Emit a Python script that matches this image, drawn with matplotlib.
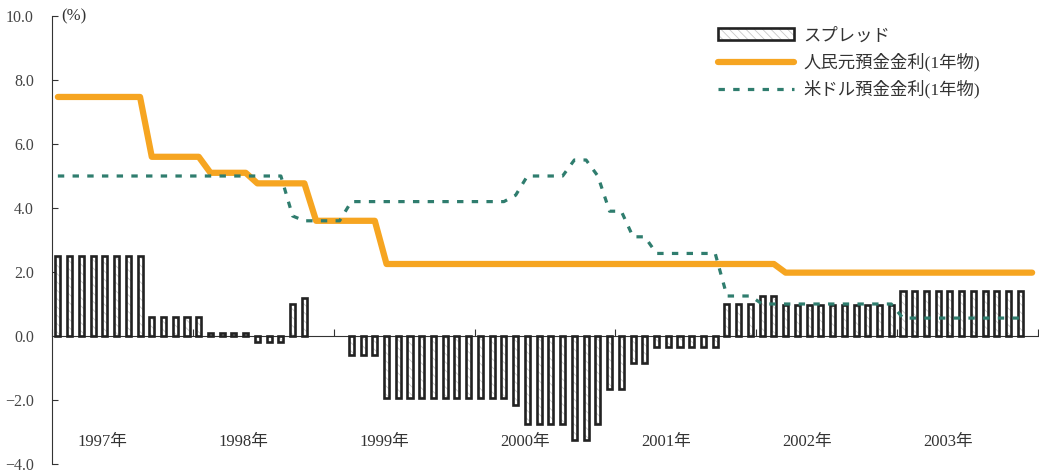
import numpy as np
import matplotlib
matplotlib.use('Agg')
import matplotlib.pyplot as plt
from matplotlib.patches import Patch
from matplotlib.lines import Line2D

plt.rcParams['font.family'] = ['Liberation Serif', 'Noto Sans CJK JP']
plt.rcParams['hatch.linewidth'] = 0.6

# monthly data, Jan 1997 - Dec 2003
years = [1997, 1998, 1999, 2000, 2001, 2002, 2003]

cny_rate = [
    7.47, 7.47, 7.47, 7.47, 7.47, 7.47, 7.47, 7.47, 5.6, 5.6, 5.6, 5.6,
    5.6, 5.1, 5.1, 5.1, 5.1, 4.77, 4.77, 4.77, 4.77, 4.77, 3.6, 3.6,
    3.6, 3.6, 3.6, 3.6, 2.25, 2.25, 2.25, 2.25, 2.25, 2.25, 2.25, 2.25,
    2.25, 2.25, 2.25, 2.25, 2.25, 2.25, 2.25, 2.25, 2.25, 2.25, 2.25, 2.25,
    2.25, 2.25, 2.25, 2.25, 2.25, 2.25, 2.25, 2.25, 2.25, 2.25, 2.25, 2.25,
    2.25, 2.25, 1.98, 1.98, 1.98, 1.98, 1.98, 1.98, 1.98, 1.98, 1.98, 1.98,
    1.98, 1.98, 1.98, 1.98, 1.98, 1.98, 1.98, 1.98, 1.98, 1.98, 1.98, 1.98,
]

usd_rate = [
    5.0, 5.0, 5.0, 5.0, 5.0, 5.0, 5.0, 5.0, 5.0, 5.0, 5.0, 5.0,
    5.0, 5.0, 5.0, 5.0, 5.0, 5.0, 5.0, 5.0, 3.75, 3.6, 3.6, 3.6,
    3.6, 4.2, 4.2, 4.2, 4.2, 4.2, 4.2, 4.2, 4.2, 4.2, 4.2, 4.2,
    4.2, 4.2, 4.2, 4.4, 5.0, 5.0, 5.0, 5.0, 5.5, 5.5, 5.0, 3.9,
    3.9, 3.1, 3.1, 2.58, 2.58, 2.58, 2.58, 2.58, 2.58, 1.25, 1.25, 1.25,
    1.0, 1.0, 1.0, 1.0, 1.0, 1.0, 1.0, 1.0, 1.0, 1.0, 1.0, 1.0,
    0.56, 0.56, 0.56, 0.56, 0.56, 0.56, 0.56, 0.56, 0.56, 0.56, 0.56,
]

spread = [
    2.5, 2.5, 2.5, 2.5, 2.5, 2.5, 2.5, 2.5, 0.6, 0.6, 0.6, 0.6,
    0.6, 0.1, 0.1, 0.1, 0.1, -0.2, -0.2, -0.2, 1.0, 1.2, 0.0, 0.0,
    0.0, -0.6, -0.6, -0.6, -1.95, -1.95, -1.95, -1.95, -1.95, -1.95, -1.95, -1.95,
    -1.95, -1.95, -1.95, -2.15, -2.75, -2.75, -2.75, -2.75, -3.25, -3.25, -2.75, -1.65,
    -1.65, -0.85, -0.85, -0.33, -0.33, -0.33, -0.33, -0.33, -0.33, 1.0, 1.0, 1.0,
    1.25, 1.25, 0.98, 0.98, 0.98, 0.98, 0.98, 0.98, 0.98, 0.98, 0.98, 0.98,
    1.42, 1.42, 1.42, 1.42, 1.42, 1.42, 1.42, 1.42, 1.42, 1.42, 1.42,
]

orange = '#F6A521'
teal = '#2F7D6E'

fig = plt.figure(figsize=(10.39, 4.73), dpi=100)
ax = fig.add_axes([52/1039, 9/473, 986/1039, 448/473])

sp = np.array(spread)
xb = np.arange(len(sp)) + 0.5
nz = sp != 0  # months with zero spread have no bar
# hatch layer then black outline
ax.bar(xb[nz], sp[nz], width=0.43, color='white', edgecolor='#c8c8c8',
       linewidth=0, hatch='\\\\\\\\', zorder=3)
ax.bar(xb[nz], sp[nz], width=0.43, fill=False, edgecolor='#222222',
       linewidth=1.9, zorder=3.5)

ax.plot(np.arange(len(cny_rate)) + 0.5, cny_rate, color=orange, lw=4.5,
        solid_capstyle='round', solid_joinstyle='round', zorder=4)
ax.plot(np.arange(len(usd_rate)) + 0.5, usd_rate, color=teal, lw=2.3,
        ls=(0, (2.0, 2.6)), zorder=5)

ax.set_xlim(0, 84)
ax.set_ylim(-4, 10)

for s in ['top', 'right']:
    ax.spines[s].set_visible(False)
ax.spines['left'].set_color('#333333')
ax.spines['bottom'].set_color('#333333')
ax.spines['bottom'].set_position(('data', 0))
ax.spines['bottom'].set_zorder(2)

ax.set_xticks(np.arange(0, 85, 12))
ax.tick_params(axis='x', direction='in', length=5, color='#333333',
               labelbottom=False)
ax.set_yticks(np.arange(-4, 11, 2))
ax.set_yticklabels([f'{v:.1f}'.replace('-', '\u2212') for v in np.arange(-4, 11, 2)])
ax.tick_params(axis='y', direction='in', length=4, pad=13, color='#333333',
               labelsize=11.5, labelcolor='#444444')

ax.text(0.8, 10, '(%)', ha='left', va='center', fontsize=12, color='#333333')

for k, yr in enumerate(years):
    ax.text(12 * k + 4.3, -3.3, f'{yr}年', ha='center', va='center',
            fontsize=12, color='#333333')

bar_handle = (Patch(facecolor='white', edgecolor='#c8c8c8', linewidth=0, hatch='\\\\\\\\'),
              Patch(fill=False, edgecolor='#222222', linewidth=1.9))
handles = [
    bar_handle,
    Line2D([], [], color=orange, lw=4.5, solid_capstyle='round'),
    Line2D([], [], color=teal, lw=2.3, ls=(0, (2.0, 2.6))),
]
labels = ['スプレッド', '人民元預金金利(1年物)', '米ドル預金金利(1年物)']
fig.legend(handles, labels, loc='upper left', bbox_to_anchor=(718/1039, 1 - 28/473),
           frameon=False, fontsize=12.5, handlelength=4.4, handletextpad=0.5,
           labelspacing=0.5, borderpad=0, borderaxespad=0, labelcolor='#333333')

fig.savefig('out.png', dpi=100)
